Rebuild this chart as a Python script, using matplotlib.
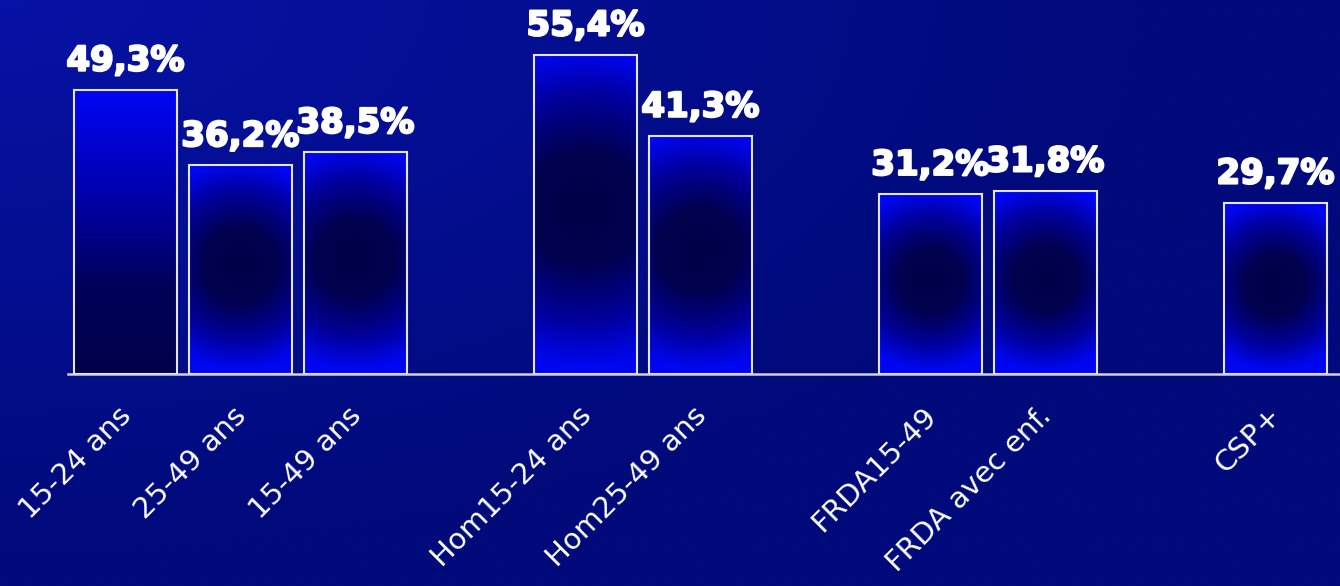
import numpy as np
import matplotlib
matplotlib.use("Agg")
import matplotlib.pyplot as plt
import matplotlib.patheffects as pe
from matplotlib.colors import LinearSegmentedColormap, to_rgb
from matplotlib.transforms import ScaledTranslation

categories = ["15-24 ans", "25-49 ans", "15-49 ans", "Hom15-24 ans", "Hom25-49 ans",
              "FRDA15-49", "FRDA avec enf.", "CSP+"]
values = [49.3, 36.2, 38.5, 55.4, 41.3, 31.2, 31.8, 29.7]
labels = ["49,3%", "36,2%", "38,5%", "55,4%", "41,3%", "31,2%", "31,8%", "29,7%"]
slots = [0, 1, 2, 4, 5, 7, 8, 10]

W, H = 1340, 586
PX_PER_UNIT = 5.76
fig = plt.figure(figsize=(W / 100, H / 100), dpi=100)

# background gradient
bg = fig.add_axes([0, 0, 1, 1], zorder=-10)
bg.set_axis_off()
yy, xx = np.mgrid[0:1:200j, 0:1:400j]
t = np.clip(np.sqrt((xx * 1.0) ** 2 + (yy * 0.9) ** 2) / 0.85, 0, 1)
c0 = np.array(to_rgb("#0712a6"))
c1 = np.array(to_rgb("#000a7a"))
img = c0[None, None, :] * (1 - t[..., None]) + c1[None, None, :] * t[..., None]
bg.imshow(img, extent=[0, 1, 0, 1], aspect="auto", origin="upper")
bg.set_xlim(0, 1)
bg.set_ylim(0, 1)

ax = fig.add_axes([68 / W, (H - 374) / H, (W - 68) / W, 374 / H])
ax.patch.set_alpha(0)
bw = 0.887
ax.set_xlim(-0.5, -0.5 + (W - 68) / 115)
ax.set_ylim(0, 374 / PX_PER_UNIT)

bars = ax.bar(slots, values, width=bw, color="none", edgecolor="#e4e4f2", linewidth=1.5, zorder=3)

cm_rad = LinearSegmentedColormap.from_list(
    "rad", [(0, "#000048"), (0.35, "#00004e"), (0.7, "#00009a"), (1.0, "#0006f0")])
cm_lin = LinearSegmentedColormap.from_list(
    "lin", [(0, "#0006f4"), (0.35, "#0000b0"), (0.7, "#000058"), (1.0, "#00004a")])

for i, b in enumerate(bars):
    x0, y0 = b.get_x(), b.get_y()
    w, h = b.get_width(), b.get_height()
    hp = h * PX_PER_UNIT
    wp = w * 115
    if i == 0:
        g = np.linspace(0, 1, 200)[:, None] * np.ones((1, 50))
        rgba = cm_lin(g)
    else:
        py, px = np.mgrid[0:hp:300j, 0:wp:120j]
        cy = 0.48 * hp
        R = hp / 2.0
        r = np.clip(np.sqrt((px - wp / 2) ** 2 + (py - cy) ** 2) / R, 0, 1)
        rgba = cm_rad(r)
    im = ax.imshow(rgba, extent=[x0, x0 + w, y0, y0 + h], origin="upper",
                   aspect="auto", zorder=2, interpolation="bilinear")
    im.set_clip_path(b)
    ax.annotate(labels[i], (slots[i], values[i]), xytext=(0, 14), textcoords="offset points",
                ha="center", va="baseline", color="white", fontsize=24.5, fontweight="bold",
                family="DejaVu Sans", zorder=5,
                path_effects=[pe.withStroke(linewidth=1.6, foreground="white")])

for s in ["top", "right", "left"]:
    ax.spines[s].set_visible(False)
ax.spines["bottom"].set_color("#d0d0dc")
ax.spines["bottom"].set_linewidth(1.8)
ax.set_yticks([])
ax.set_xticks(slots)
ax.set_xticklabels(categories, rotation=45, ha="right", va="top", rotation_mode="anchor",
                   color="white", fontsize=21, family="DejaVu Sans")
ax.tick_params(axis="x", length=0, pad=17)
off = ScaledTranslation(-8 / 100, -4 / 100, fig.dpi_scale_trans)
for lab in ax.get_xticklabels():
    lab.set_transform(lab.get_transform() + off)

fig.savefig("out.png", dpi=100)
